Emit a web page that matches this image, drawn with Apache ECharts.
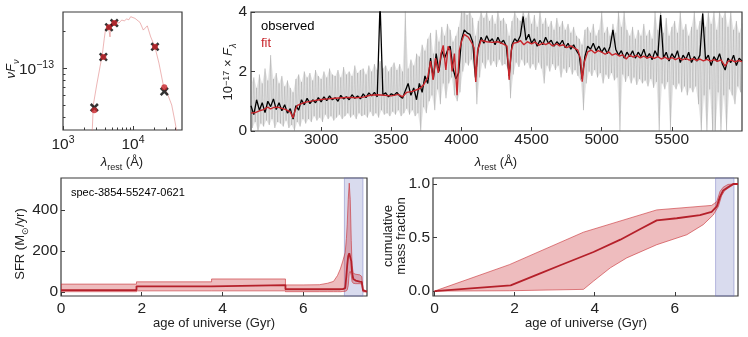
<!DOCTYPE html>
<html>
<head>
<meta charset="utf-8">
<script src="https://cdn.jsdelivr.net/npm/echarts@6/dist/echarts.min.js"></script>
<style>
html,body{margin:0;padding:0;background:#fff;}
#chart{width:748px;height:337px;}
</style>
</head>
<body>
<div id="chart"></div>
<script>
// photometry, rest-frame wavelength (A) and nuFnu
var photWave = [2800, 3770, 4540, 5400, 20600, 28000];
var photObs = [4.76e-14, 1.24e-13, 2.17e-13, 2.35e-13, 1.50e-13, 6.45e-14];
var photModel = [4.53e-14, 1.24e-13, 2.17e-13, 2.35e-13, 1.50e-13, 7.0e-14];
// model SED
var sedWave = [2553, 2710, 3030, 3380, 3640, 3890, 4074, 4436, 4693, 4850,
    5100, 5400, 5848, 6300, 6900, 7500, 8130, 8700, 9270, 10680,
    12590, 14030, 16000, 17910, 20610, 23500, 27090, 30900, 35730, 39810,
    42950, 45400];
var sedFlux = [2.14e-14, 5.0e-14, 7.3e-14, 1.03e-13, 1.285e-13, 1.76e-13, 2.13e-13, 2.23e-13, 1.81e-13, 2.30e-13,
    2.36e-13, 2.28e-13, 2.41e-13, 2.35e-13, 2.49e-13, 2.45e-13, 2.54e-13, 2.50e-13, 2.65e-13, 2.57e-13,
    2.38e-13, 2.06e-13, 2.23e-13, 1.81e-13, 1.49e-13, 1.10e-13, 7.3e-14, 6.24e-14, 5.0e-14, 3.65e-14,
    2.84e-14, 2.14e-14];
var sedMajorX = [1e3, 1e4];
var sedMinorX = [2000, 3000, 4000, 5000, 6000, 7000, 8000, 9000, 20000, 30000, 40000];
var sedMajorY = [1e-13];
var sedMinorY = [4e-14, 5e-14, 6e-14, 7e-14, 8e-14, 9e-14, 2e-13];

// spectrum, 20 A grid from 2500 A
var specStart = 2500, specStep = 20;
var obsFlux = [
    0.85, 0.55, 1.05, 0.70, 0.95, 0.62, 1.00, 0.82, 1.08, 0.72,
    0.95, 0.68, 0.88, 0.60, 0.75, 0.40, 0.85, 0.70, 1.05, 0.88,
    1.10, 0.92, 1.05, 0.95, 1.12, 0.98, 1.15, 1.02, 1.18, 1.05,
    1.12, 1.00, 1.20, 1.08, 1.15, 1.05, 1.22, 1.10, 1.18, 1.08,
    1.25, 1.12, 1.28, 1.18, 1.30, 1.15, 4.30, 1.22, 1.28, 1.15,
    1.25, 1.20, 1.30, 1.18, 1.10, 1.35, 1.60, 1.20, 1.45, 1.05,
    1.60, 1.30, 1.85, 1.60, 2.45, 1.75, 2.60, 2.00, 2.70, 2.45,
    2.70, 2.85, 2.10, 1.75, 1.95, 3.05, 3.40, 3.30, 3.25, 3.00,
    1.80, 2.80, 3.15, 2.95, 3.20, 3.00, 3.10, 2.90, 3.15, 2.95,
    3.05, 2.85, 1.85, 2.90, 3.10, 3.00, 3.20, 3.85, 3.05, 3.25,
    2.95, 3.10, 2.85, 3.05, 2.90, 3.15, 2.95, 3.05, 2.85, 3.00,
    2.90, 3.05, 2.80, 2.95, 2.75, 2.90, 2.70, 2.55, 1.75, 2.50,
    2.85, 2.75, 2.95, 2.70, 2.85, 2.65, 2.80, 2.60, 2.85, 3.40,
    2.75, 2.55, 2.70, 2.45, 2.65, 2.50, 2.70, 2.45, 2.65, 2.50,
    2.75, 2.45, 2.60, 2.40, 2.70, 2.50, 3.90, 2.45, 2.65, 2.35,
    2.60, 2.45, 2.70, 2.30, 2.55, 2.40, 2.65, 2.30, 2.50, 2.35,
    2.55, 3.95, 2.40, 2.55, 2.20, 2.50, 2.35, 2.60, 2.25, 2.05,
    2.45, 2.30, 2.55, 2.20, 2.45, 2.35];
var noiseHi = [
    1.55, 1.80, 1.45, 1.90, 1.60, 2.10, 1.70, 2.55, 1.75, 1.95,
    1.60, 1.85, 1.50, 1.70, 1.45, 1.30, 1.75, 1.90, 1.65, 2.00,
    1.80, 1.95, 1.70, 2.05, 1.85, 1.75, 2.00, 1.80, 2.10, 1.90,
    1.85, 2.05, 1.80, 2.15, 1.90, 2.00, 1.85, 2.20, 1.95, 2.05,
    2.10, 1.90, 2.20, 2.00, 2.25, 2.05, 2.35, 2.10, 2.20, 2.00,
    2.15, 2.30, 2.05, 2.25, 2.00, 4.20, 2.10, 2.40, 2.20, 2.60,
    2.50, 2.90, 2.70, 3.10, 3.30, 2.60, 3.40, 3.00, 3.50, 3.20,
    3.60, 3.40, 3.00, 3.20, 3.50, 4.20, 4.10, 3.90, 4.20, 3.80,
    3.20, 3.70, 4.10, 3.80, 4.20, 3.70, 3.90, 3.60, 4.10, 3.70,
    3.80, 3.60, 3.20, 3.70, 4.20, 3.80, 3.70, 4.20, 3.80, 4.20,
    3.60, 3.90, 3.50, 4.20, 3.60, 3.80, 3.50, 3.70, 3.40, 3.80,
    3.50, 3.70, 3.40, 3.60, 3.30, 3.50, 3.20, 3.10, 2.90, 3.40,
    3.50, 3.30, 3.60, 3.20, 3.40, 4.20, 3.30, 3.50, 3.20, 3.60,
    3.30, 4.20, 3.50, 4.20, 3.40, 3.20, 3.50, 3.10, 3.40, 3.20,
    3.60, 3.20, 3.40, 3.10, 4.20, 3.40, 4.20, 3.30, 3.80, 3.20,
    3.50, 3.70, 3.30, 4.20, 3.40, 3.60, 3.20, 3.50, 4.20, 3.40,
    3.70, 4.20, 3.50, 4.20, 3.60, 4.20, 3.40, 4.20, 3.80, 4.20,
    3.50, 4.20, 3.40, 3.70, 3.30, 3.60];
var noiseLo = [
    0.10, 0.30, 0.00, 0.25, 0.15, 0.35, 0.20, 0.40, 0.10, 0.30,
    0.25, 0.15, 0.35, 0.10, 0.20, 0.00, 0.30, 0.15, 0.40, 0.25,
    0.40, 0.30, 0.50, 0.35, 0.45, 0.30, 0.55, 0.40, 0.50, 0.35,
    0.45, 0.55, 0.40, 0.50, 0.60, 0.45, 0.55, 0.40, 0.60, 0.50,
    0.55, 0.45, 0.65, 0.50, 0.60, 0.45, 0.70, 0.55, 0.60, 0.50,
    0.65, 0.55, 0.70, 0.50, 0.60, 0.75, 0.55, 0.70, 0.50, 0.60,
    0.00, 0.80, 0.60, 1.00, 1.20, 0.70, 1.40, 0.90, 1.60, 1.10,
    1.60, 1.80, 1.20, 1.00, 1.30, 2.00, 2.30, 2.20, 2.40, 2.10,
    0.90, 1.80, 2.30, 2.10, 2.40, 2.20, 2.35, 2.15, 2.40, 2.20,
    2.25, 2.10, 1.10, 1.90, 2.30, 2.15, 2.40, 2.20, 2.30, 2.10,
    2.25, 2.05, 2.30, 2.10, 1.60, 2.20, 2.00, 2.25, 2.05, 2.20,
    1.80, 2.10, 1.95, 2.15, 1.90, 2.05, 1.85, 1.70, 0.70, 1.60,
    2.00, 1.85, 2.05, 1.80, 1.95, 1.60, 1.90, 1.75, 1.95, 1.70,
    1.80, 0.00, 1.90, 1.65, 1.85, 1.60, 1.80, 1.55, 1.75, 1.60,
    1.70, 1.50, 1.75, 1.45, 1.65, 0.00, 1.60, 1.40, 1.65, 0.00,
    1.55, 1.40, 1.60, 1.30, 1.50, 1.20, 1.45, 1.30, 1.50, 0.90,
    0.00, 1.20, 0.00, 1.40, 0.00, 0.00, 1.30, 0.00, 1.20, 0.00,
    1.40, 1.20, 0.90, 1.50, 1.30, 1.50];
// best-fit model spectrum [wavelength, flux]
var fitSpec = [
    [2500, 0.60], [2530, 0.62], [2560, 0.68], [2590, 0.72], [2620, 0.80], [2640, 0.74], [2660, 0.79], [2690, 0.80],
    [2720, 0.76], [2750, 0.72], [2780, 0.64], [2800, 0.44], [2815, 0.70], [2830, 0.86], [2870, 0.94], [2900, 0.98],
    [2950, 1.02], [3000, 1.06], [3050, 1.08], [3100, 1.10], [3150, 1.12], [3200, 1.13], [3250, 1.12], [3300, 1.14],
    [3350, 1.20], [3400, 1.22], [3450, 1.20], [3500, 1.18], [3550, 1.23], [3580, 1.15], [3610, 1.30], [3650, 1.33],
    [3700, 1.42], [3730, 1.55], [3760, 1.80], [3780, 2.35], [3798, 1.72], [3815, 2.45], [3835, 1.95], [3855, 2.60],
    [3870, 2.88], [3889, 2.05], [3905, 2.85], [3920, 2.70], [3934, 2.00], [3950, 2.60], [3969, 1.20], [3985, 2.70],
    [4000, 3.00], [4020, 3.25], [4050, 3.15], [4075, 2.95], [4090, 2.80], [4102, 1.65], [4115, 2.70], [4140, 3.05],
    [4180, 3.00], [4220, 2.98], [4260, 3.00], [4300, 2.92], [4325, 2.85], [4340, 1.72], [4355, 2.70], [4370, 2.95],
    [4400, 2.98], [4420, 3.04], [4445, 2.90], [4470, 3.00], [4500, 2.93], [4525, 2.99], [4550, 2.88], [4580, 2.95],
    [4600, 2.90], [4625, 2.96], [4650, 2.86], [4680, 2.93], [4700, 2.86], [4725, 2.90], [4750, 2.80], [4780, 2.86],
    [4800, 2.80], [4830, 2.72], [4850, 2.40], [4861, 1.66], [4875, 2.30], [4900, 2.66], [4925, 2.72], [4950, 2.62],
    [4975, 2.70], [5000, 2.65], [5025, 2.58], [5050, 2.66], [5075, 2.55], [5100, 2.60], [5125, 2.52], [5150, 2.56],
    [5175, 2.42], [5200, 2.55], [5225, 2.48], [5250, 2.54], [5275, 2.46], [5300, 2.52], [5325, 2.45], [5350, 2.50],
    [5375, 2.44], [5400, 2.50], [5425, 2.42], [5450, 2.48], [5475, 2.41], [5500, 2.47], [5525, 2.40], [5550, 2.46],
    [5575, 2.39], [5600, 2.44], [5625, 2.38], [5650, 2.43], [5675, 2.37], [5700, 2.42], [5725, 2.36], [5750, 2.41],
    [5775, 2.35], [5800, 2.40], [5825, 2.34], [5850, 2.39], [5880, 2.18], [5900, 2.34], [5925, 2.38], [5950, 2.32],
    [5975, 2.37], [6000, 2.33]];
var specTicks = [3000, 3500, 4000, 4500, 5000, 5500];

// star formation history
var binEdges = [0, 1.87, 3.73, 5.56];
var sfrBinMed = [9, 27, 33];
var sfrBinHi = [38, 49, 63];
var sfrBinLo = [1, 5, 5];
var burstAge = [5.56, 6.0, 6.4, 6.6, 6.75, 6.85, 6.92, 6.98, 7.04, 7.07, 7.09, 7.115, 7.14, 7.165, 7.19, 7.21, 7.24, 7.3, 7.4, 7.45, 7.48, 7.51, 7.58];
var sfrHi = [34, 34, 35, 42, 51, 80, 112, 150, 192, 260, 330, 450, 530, 450, 250, 130, 91, 86, 83, 75, 10, 2, 2];
var sfrMed = [13, 13, 13, 13, 13, 13, 13, 14, 18, 80, 130, 175, 188, 183, 150, 95, 63, 55, 50, 49, 9, 1, 1];
var sfrLo = [1, 1, 1, 1, 1, 1, 1, 2, 3, 5, 10, 30, 90, 100, 80, 50, 42, 40, 40, 38, 0, 0, 0];

// cumulative mass fraction
var massAgeMed = [0, 1.90, 2.64, 3.14, 3.97, 4.64, 5.14, 5.55, 6.05, 6.63, 6.92, 7.05, 7.13, 7.21, 7.33, 7.46, 7.58];
var massMed = [0, 0.053, 0.165, 0.241, 0.365, 0.48, 0.58, 0.66, 0.68, 0.71, 0.74, 0.79, 0.88, 0.94, 0.97, 1.0, 1.0];
var massAgeHi = [0, 1.87, 3.72, 5.55, 6.92, 7.05, 7.13, 7.21, 7.33, 7.46, 7.58];
var massHi = [0, 0.247, 0.55, 0.758, 0.80, 0.835, 0.93, 0.97, 0.996, 1.0, 1.0];
var massAgeLo = [0, 1.87, 3.72, 3.97, 4.39, 4.8, 5.55, 6.3, 6.71, 6.96, 7.09, 7.17, 7.25, 7.37, 7.5, 7.58];
var massLo = [0, 0.003, 0.016, 0.093, 0.217, 0.31, 0.433, 0.526, 0.62, 0.71, 0.79, 0.89, 0.94, 0.97, 1.0, 1.0];

var ageTicks = [0, 2, 4, 6];
var sfrTicks = [0, 200, 400];
var massTicks = [0, 0.5, 1];
var fitSpan = [7.02, 7.48];

var FONT = '"Liberation Sans", Arial, sans-serif';
var AX = '#3a3a3a';
var TXT = '#222';
var RED = '#c8262c';
var DARKRED = '#b5202a';
var BAND = 'rgba(205,60,65,0.34)';
var BAND_EDGE = 'rgba(200,45,50,0.6)';

function logPts(xs, ys) {
    return xs.map(function (x, i) { return [Math.log10(x), Math.log10(ys[i])]; });
}
function pairs(xs, ys) {
    return xs.map(function (x, i) { return [x, ys[i]]; });
}
function stepPts(edges, binVals, ages, vals) {
    var pts = [];
    for (var i = 0; i < binVals.length; i++) {
        pts.push([edges[i], binVals[i]], [edges[i + 1], binVals[i]]);
    }
    return pts.concat(pairs(ages, vals));
}
function expText(v) {
    var n = Math.round(v);
    return n < 0 ? '\u2212' + (-n) : '' + n;
}

var supRich = {
    b: {fontSize: 15.5, lineHeight: 18, verticalAlign: 'bottom', fontFamily: FONT, color: TXT},
    s: {fontSize: 10.5, lineHeight: 11, verticalAlign: 'top', fontFamily: FONT, color: TXT}
};

function axis(grid, min, max, ticks, o) {
    o = o || {};
    return {
        type: 'value', gridIndex: grid, min: min, max: max, position: o.position,
        axisLine: {show: false, onZero: false},
        splitLine: {show: false},
        axisTick: {show: true, inside: true, length: o.tickLen || 4, customValues: ticks,
            lineStyle: {color: AX, width: 1}},
        axisLabel: {show: !o.noLabel, customValues: ticks, margin: o.margin == null ? 4 : o.margin,
            color: TXT, fontFamily: FONT, fontSize: 15.5,
            formatter: o.formatter || function (v) { return '' + v; }, rich: o.rich}
    };
}

var grids = [
    {left: 63, top: 12, width: 119, height: 118},
    {left: 251, top: 12, width: 491, height: 119},
    {left: 61, top: 178, width: 306, height: 118},
    {left: 433, top: 178, width: 305, height: 118}
].map(function (g) {
    g.show = true; g.borderColor = AX; g.borderWidth = 1.2; g.containLabel = false;
    return g;
});

var xAxes = [
    axis(0, 3, 4.7, sedMajorX.map(Math.log10), {position: 'bottom', margin: 5, rich: supRich,
        formatter: function (v) { return '{b|10}{s|' + expText(v) + '}'; }}),
    axis(0, 3, 4.7, sedMinorX.map(Math.log10), {position: 'bottom', noLabel: true, tickLen: 2.5}),
    axis(1, 2500, 6000, specTicks, {position: 'bottom', margin: 1}),
    axis(2, 0, 7.58, ageTicks, {position: 'bottom', margin: 5}),
    axis(3, -0.04, 7.58, ageTicks, {position: 'bottom', margin: 5})
];
var yAxes = [
    axis(0, -13.506, -12.538, sedMajorY.map(Math.log10), {position: 'left', margin: 9, rich: supRich,
        formatter: function (v) { return '{b|10}{s|' + expText(v) + '}'; }}),
    axis(0, -13.506, -12.538, sedMinorY.map(Math.log10), {position: 'left', noLabel: true, tickLen: 2.5}),
    axis(1, 0, 4, [0, 2, 4], {position: 'left', margin: 4}),
    axis(2, -20, 555, sfrTicks, {position: 'left', margin: 3}),
    axis(3, -0.046, 1.056, massTicks, {position: 'left', margin: 3,
        formatter: function (v) { return v.toFixed(1); }})
];

var grayPts = [];
var grayUp = [];
var grayDown = [];
var obsPts = [];
for (var i = 0; i < obsFlux.length; i++) {
    var w = specStart + i * specStep;
    grayPts.push([w, noiseHi[i]], [w + specStep / 2, noiseLo[i]]);
    grayUp.push([w, noiseHi[i]]);
    grayDown.push([w + specStep / 2, noiseLo[i]]);
    obsPts.push([w, obsFlux[i]]);
}

function polySeries(xi, yi, upper, lower, fill, stroke, z) {
    return {
        type: 'custom', xAxisIndex: xi, yAxisIndex: yi, z: z || 2, silent: true, clip: true, data: [[1, 0.5]],
        renderItem: function (params, api) {
            var cs = params.coordSys;
            var clampY = function (p) {
                var c = api.coord(p);
                c[1] = Math.max(cs.y, Math.min(cs.y + cs.height, c[1]));
                return c;
            };
            var up = upper.map(clampY);
            var lo = lower.map(clampY).reverse();
            return {type: 'polygon', shape: {points: up.concat(lo)},
                style: {fill: fill, stroke: stroke, lineWidth: stroke ? 1 : 0}};
        }
    };
}
function spanSeries(xi, yi) {
    return {
        type: 'custom', xAxisIndex: xi, yAxisIndex: yi, z: 1, silent: true, data: [fitSpan],
        renderItem: function (params, api) {
            var x0 = api.coord([api.value(0), 0])[0];
            var x1 = api.coord([api.value(1), 0])[0];
            var cs = params.coordSys;
            return {type: 'rect', shape: {x: x0, y: cs.y, width: x1 - x0, height: cs.height},
                style: {fill: 'rgba(120,125,195,0.28)', stroke: 'rgba(110,115,190,0.45)', lineWidth: 1}};
        }
    };
}
function lineSeries(xi, yi, data, color, width, z) {
    return {type: 'line', xAxisIndex: xi, yAxisIndex: yi, data: data, symbol: 'none', z: z || 3,
        lineStyle: {color: color, width: width}, silent: true, clip: true};
}

var R = {
    n: {fontSize: 13, fontFamily: FONT, lineHeight: 16, verticalAlign: 'top', fill: TXT},
    i: {fontSize: 13, fontFamily: FONT, fontStyle: 'italic', lineHeight: 16, verticalAlign: 'top', fill: TXT},
    sub: {fontSize: 9, fontFamily: FONT, lineHeight: 10, padding: [8, 0, 0, 0], verticalAlign: 'bottom', fill: TXT},
    isub: {fontSize: 9, fontFamily: FONT, fontStyle: 'italic', lineHeight: 10, padding: [8, 0, 0, 0], verticalAlign: 'bottom', fill: TXT},
    sup: {fontSize: 9, fontFamily: FONT, lineHeight: 9, verticalAlign: 'top', fill: TXT}
};
function label(x, y, str, rot, extra) {
    var st = {text: str, rich: R, align: 'center', verticalAlign: 'middle', fill: TXT, fontFamily: FONT, fontSize: 13};
    for (var k in (extra || {})) st[k] = extra[k];
    return {type: 'text', x: x, y: y, rotation: rot || 0, silent: true, style: st};
}
var V = Math.PI / 2;
var lambdaRest = '{i|\u03bb}{sub|rest}{n| (\u00c5)}';

var option = {
    animation: false,
    backgroundColor: '#fff',
    grid: grids,
    xAxis: xAxes,
    yAxis: yAxes,
    series: [
        lineSeries(0, 0, logPts(sedWave, sedFlux), 'rgba(220,110,110,0.5)', 1, 2),
        {type: 'scatter', xAxisIndex: 0, yAxisIndex: 0, z: 4, silent: true,
            symbol: 'path://M0,2L2,0L5,3L8,0L10,2L7,5L10,8L8,10L5,7L2,10L0,8L3,5Z', symbolSize: 9,
            itemStyle: {color: '#000'}, data: logPts(photWave, photObs)},
        {type: 'scatter', xAxisIndex: 0, yAxisIndex: 0, z: 5, silent: true, symbol: 'circle', symbolSize: 6,
            itemStyle: {color: RED}, data: logPts(photWave, photModel)},

        polySeries(2, 2, grayUp, grayDown, 'rgba(160,160,160,0.28)', null, 1),
        lineSeries(2, 2, grayPts, 'rgba(120,120,120,0.3)', 0.8, 2),
        lineSeries(2, 2, obsPts, '#000', 1.3, 3),
        lineSeries(2, 2, fitSpec, RED, 1.4, 4),

        spanSeries(3, 3),
        polySeries(3, 3, stepPts(binEdges, sfrBinHi, burstAge, sfrHi), stepPts(binEdges, sfrBinLo, burstAge, sfrLo), BAND, BAND_EDGE, 2),
        lineSeries(3, 3, stepPts(binEdges, sfrBinMed, burstAge, sfrMed), DARKRED, 1.8, 3),

        spanSeries(4, 4),
        polySeries(4, 4, pairs(massAgeHi, massHi), pairs(massAgeLo, massLo), BAND, BAND_EDGE, 2),
        lineSeries(4, 4, pairs(massAgeMed, massMed), DARKRED, 1.8, 3)
    ],
    graphic: [
        label(13, 69, '{i|\u03bd}{i|F}{isub|\u03bd}', V),
        label(122, 164, lambdaRest),
        label(230, 72, '{n|10}{sup|\u221217}{n| \u00d7 }{i|F}{isub|\u03bb}', V),
        label(496, 164, lambdaRest),
        label(22, 244, '{n|SFR (M}{sub|\u2299}{n|/yr)}', V),
        label(214, 323, 'age of universe (Gyr)', 0, {rich: null}),
        label(395, 236, 'cumulative\nmass fraction', V, {rich: null, lineHeight: 13}),
        label(586, 323, 'age of universe (Gyr)', 0, {rich: null}),
        label(261, 26, 'observed', 0, {rich: null, align: 'left', fill: '#000'}),
        label(261, 43.5, 'fit', 0, {rich: null, align: 'left', fill: RED}),
        label(71, 193, 'spec-3854-55247-0621', 0, {rich: null, align: 'left', fontSize: 11, fill: '#000'})
    ]
};

var chart = echarts.init(document.getElementById('chart'));
chart.setOption(option);
</script>
</body>
</html>
